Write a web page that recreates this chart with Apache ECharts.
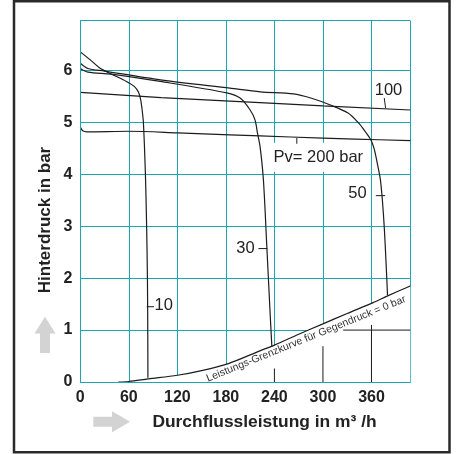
<!DOCTYPE html>
<html><head><meta charset="utf-8">
<script src="https://cdn.jsdelivr.net/npm/echarts@6/dist/echarts.min.js"></script>
<style>html,body{margin:0;padding:0;background:#fff}#c{width:459px;height:454px}</style>
</head><body><div id="c"></div>
<script>
// ---- data ----
const xMax = 408, yMax = 6.96;
const xInterval = 60, yInterval = 1;
const curve10 = [[0,6.36],[12,6.21],[24,6.05],[40,5.92],[57,5.79],[67,5.69],[72,5.58],[74.5,5.45],[76,5.3],[78,5.0],[80.5,4.0],[82,3.0],[83,2.0],[83.4,1.0],[83.6,0.08]];
const curve30 = [[0,6.04],[9.5,5.97],[38,5.93],[99,5.79],[181,5.57],[197.6,5.47],[210,5.24],[216,5.05],[219,4.8],[222.3,4.53],[226.4,3.89],[230.6,2.61],[234.7,1.32],[236.8,0.69]];
const curve50 = [[0,6.14],[9.5,6.04],[30,5.99],[99,5.82],[185,5.66],[222.6,5.59],[263.5,5.55],[285,5.47],[310,5.33],[331,5.18],[344,4.99],[352,4.83],[359,4.67],[363,4.51],[365,4.38],[368,4.15],[371,3.9],[373.5,3.5],[376,2.93],[378,2.3],[379.2,1.9],[379.8,1.67]];
const curve100 = [[0,5.58],[100,5.48],[185,5.41],[222,5.38],[300,5.32],[408,5.24]];
const curve200 = [[0,4.91],[3,4.84],[8,4.82],[60,4.83],[120,4.80],[185,4.76],[260,4.72],[340,4.68],[408,4.65]];
const limitCurve = [[47,0],[60,0.01],[84,0.06],[120,0.13],[150,0.22],[184,0.36],[222,0.6],[240,0.71],[270,0.92],[300,1.12],[330,1.32],[362,1.53],[380,1.66],[408,1.85]];
// grid lines drawn dark below the limit curve
const seg240 = [[240,0],[240,0.26]];
const seg300 = [[300,0],[300,0.69]];
const seg360 = [[360,0],[360,1.10]];
const seg1bar = [[325,1],[408,1]];
// curve labels: [text, x, y, align]
const curveLabels = [["10",91.8,1.48,"left"],["30",215.5,2.57,"right"],["50",354,3.63,"right"],["100",364,5.62,"left"]];
const leaders = [[[82.1,1.45],[91.2,1.45]],[[220.2,2.57],[231.3,2.57]],[[365.4,3.59],[376.9,3.59]],[[375.8,5.47],[377.4,5.28]],[[267.7,4.70],[267.7,4.59]]];
const pvLabel = ["Pv= 200 bar",294.3,4.33];
const limitLabel = ["Leistungs-Grenzkurve für Gegendruck = 0 bar",279.2,0.83];
const yName = "Hinterdruck in bar";
const xName = "Durchflussleistung in m³ /h";

const FONT = "'Liberation Sans', Arial, sans-serif";
const GRIDC = '#1fa5b0';
const INK = '#1c1c1c';

const chart = echarts.init(document.getElementById('c'));
function lineSeries(data, extra) {
  return Object.assign({type:'line', data, symbol:'none', smooth:0.3, silent:true, z:4,
    lineStyle:{color:INK, width:1.2}}, extra||{});
}
chart.setOption({
  animation:false,
  grid:{left:80.3, right:48.7, top:20.7, bottom:72},
  xAxis:[
    {type:'value', min:0, max:xMax, interval:xInterval,
     axisLine:{show:false}, axisTick:{show:false},
     axisLabel:{showMaxLabel:false, margin:8, fontSize:16, fontWeight:'bold', color:'#222', fontFamily:FONT},
     splitLine:{show:true, lineStyle:{color:GRIDC, width:1}}},
    {type:'value', min:0, max:xMax, position:'bottom', z:10,
     axisLine:{show:true, lineStyle:{color:GRIDC, width:1}}, axisTick:{show:false},
     axisLabel:{show:false}, splitLine:{show:false}}
  ],
  yAxis:[
    {type:'value', min:0, max:yMax, interval:yInterval,
     axisLine:{show:false}, axisTick:{show:false},
     axisLabel:{showMaxLabel:false, margin:8, fontSize:16, fontWeight:'bold', color:'#222', fontFamily:FONT},
     splitLine:{show:true, lineStyle:{color:GRIDC, width:1}}},
    {type:'value', min:0, max:yMax, position:'right', z:10,
     axisLine:{show:true, lineStyle:{color:GRIDC, width:1}}, axisTick:{show:false},
     axisLabel:{show:false}, splitLine:{show:false}}
  ],
  series:[
    {type:'line', data:limitCurve, symbol:'none', smooth:0.3, silent:true, z:2,
     lineStyle:{width:0}, areaStyle:{color:'#ffffff', opacity:1}},
    lineSeries(seg240,{smooth:false, z:3, lineStyle:{color:INK,width:1}}),
    lineSeries(seg300,{smooth:false, z:3, lineStyle:{color:INK,width:1}}),
    lineSeries(seg360,{smooth:false, z:3, lineStyle:{color:INK,width:1}}),
    lineSeries(seg1bar,{smooth:false, z:3, lineStyle:{color:INK,width:1}}),
    lineSeries(limitCurve),
    lineSeries(curve10),
    lineSeries(curve30),
    lineSeries(curve50),
    lineSeries(curve100,{smooth:false}),
    lineSeries(curve200)
  ]
});

const P = (x,y) => chart.convertToPixel({gridIndex:0},[x,y]);
const g = [];
// outer frame
g.push({type:'rect', shape:{x:14, y:1.3, width:435.5, height:451}, style:{fill:null, stroke:'#2a2a2a', lineWidth:2.5}, z:20});
// axis names
g.push({type:'text', x:45, y:220, rotation:Math.PI/2, z:20,
  style:{text:yName, font:'bold 17px '+FONT, fill:'#222', align:'center', verticalAlign:'middle', textAlign:'center', textVerticalAlign:'middle'}});
g.push({type:'text', x:264.5, y:422, z:20,
  style:{text:xName, font:'bold 17.4px '+FONT, fill:'#222', align:'center', verticalAlign:'middle', textAlign:'center', textVerticalAlign:'middle'}});
// grey arrows
g.push({type:'polygon', z:20, shape:{points:[[45,316.7],[55.5,333.5],[50,333.5],[50,353],[40,353],[40,333.5],[34.5,333.5]]}, style:{fill:'#d3d3d3'}});
g.push({type:'polygon', z:20, shape:{points:[[130,421.7],[112,411.2],[112,416.7],[93.3,416.7],[93.3,426.7],[112,426.7],[112,432.2]]}, style:{fill:'#d3d3d3'}});
// leaders
leaders.forEach(l => {
  const a = P(l[0][0], l[0][1]), b = P(l[1][0], l[1][1]);
  g.push({type:'line', z:15, shape:{x1:a[0],y1:a[1],x2:b[0],y2:b[1]}, style:{stroke:INK, lineWidth:1}});
});
// curve labels
curveLabels.forEach(c => {
  const p = P(c[1], c[2]);
  g.push({type:'text', x:p[0], y:p[1], z:15,
    style:{text:c[0], font:'16.5px '+FONT, fill:'#222', align:c[3], verticalAlign:'middle', textAlign:c[3], textVerticalAlign:'middle'}});
});
{
  const p = P(pvLabel[1], pvLabel[2]);
  g.push({type:'rect', z:14, shape:{x:p[0]-52, y:p[1]-14.5, width:104, height:29}, style:{fill:'#fff'}});
  g.push({type:'text', x:p[0], y:p[1], z:15,
    style:{text:pvLabel[0], font:'16.5px '+FONT, fill:'#222', align:'center', verticalAlign:'middle', textAlign:'center', textVerticalAlign:'middle'}});
}
{
  const p = P(limitLabel[1], limitLabel[2]);
  g.push({type:'text', x:p[0], y:p[1], rotation:22*Math.PI/180, z:15,
    style:{text:limitLabel[0], font:'10.5px '+FONT, fill:'#333', align:'center', verticalAlign:'middle', textAlign:'center', textVerticalAlign:'middle'}});
}
chart.setOption({graphic:{elements:g}});
</script></body></html>
